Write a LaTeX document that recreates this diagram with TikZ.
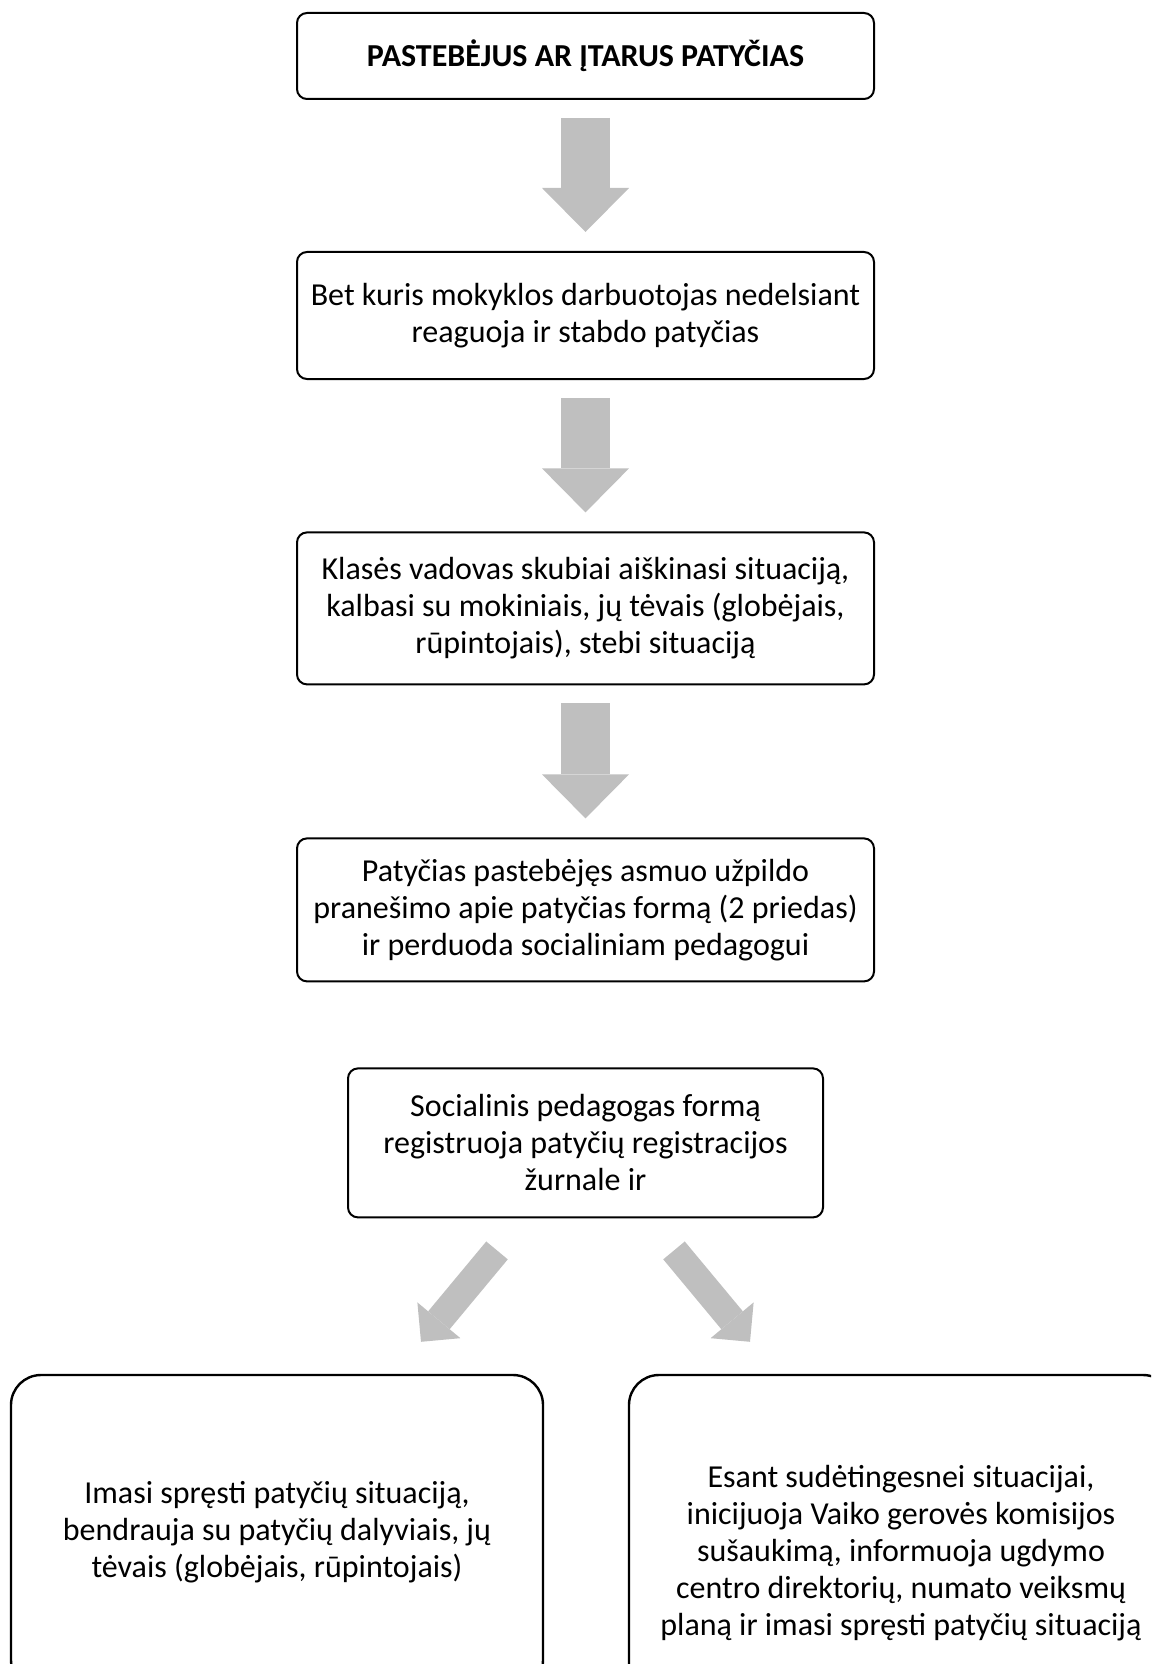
\documentclass[tikz,border=0pt]{standalone}
\usepackage{fontspec}
\setmainfont{Carlito}
\usetikzlibrary{arrows.meta, positioning}
\definecolor{arrgray}{HTML}{BFBFBF}

\begin{document}
\begin{tikzpicture}[x=0.5pt, y=-0.5pt, node distance = 75.7pt,
box/.style = {rectangle, rounded corners=5pt, draw, line width=1pt,
  align=center, minimum width=288.5pt, inner sep=2mm,
  font=\fontsize{16}{18.5}\selectfont},
wide/.style = {% bottom boxes
  box, rounded corners=15pt, line width=1.2pt},
DA/.style = {% Down Arrow
  draw=arrgray, line width=24.5pt,
  -{Triangle[length=22pt, width=43.5pt, line width=0pt]},
  shorten <=9pt, shorten >=9.5pt},
SA/.style = {% Slanted Arrow
  draw=arrgray, line width=14pt,
  -{Triangle[length=14pt, width=28pt, line width=0pt]}}]
\useasboundingbox (0,0) rectangle (1151,1664);
\clip (0,0) rectangle (1151,1664);
% main column
\node[box, minimum height=43pt, font=\bfseries\fontsize{16}{18.5}\selectfont]
  (b1) at (585.5,56) {PASTEBĖJUS AR ĮTARUS PATYČIAS};
\node[box, minimum height=63.5pt, below=75.5pt of b1] (b2)
  {Bet kuris mokyklos darbuotojas nedelsiant\\ reaguoja ir stabdo patyčias};
\node[box, minimum height=76pt, below=of b2] (b3)
  {Klasės vadovas skubiai aiškinasi situaciją,\\ kalbasi su mokiniais, jų tėvais (globėjais,\\ rūpintojais), stebi situaciją};
\node[box, minimum height=71.5pt, below=76pt of b3] (b4)
  {Patyčias pastebėjęs asmuo užpildo\\ pranešimo apie patyčias formą (2 priedas)\\ ir perduoda socialiniam pedagogui};
\node[box, minimum width=237.5pt, minimum height=74.5pt, below=42.5pt of b4] (b5)
  {Socialinis pedagogas formą\\ registruoja patyčių registracijos\\ žurnale ir};
% two outcomes
\node[wide, minimum width=266pt, minimum height=157.5pt] (b6) at (277,1532.5)
  {Imasi spręsti patyčių situaciją,\\ bendrauja su patyčių dalyviais, jų\\ tėvais (globėjais, rūpintojais)};
\node[wide, minimum width=272pt, minimum height=178pt] (b7) at (901,1553)
  {Esant sudėtingesnei situacijai,\\ inicijuoja Vaiko gerovės komisijos\\ sušaukimą, informuoja ugdymo\\ centro direktorių, numato veiksmų\\ planą ir imasi spręsti patyčių situaciją};
% arrows between nodes
\draw[DA] (b1) -- (b2);
\draw[DA] (b2) -- (b3);
\draw[DA] (b3) -- (b4);
\draw[SA] ([shift={(-88.5,32)}]b5.south) -- ([shift={(144,-32)}]b6.north);
\draw[SA] ([shift={(88.5,32)}]b5.south) -- ([shift={(-151,-32)}]b7.north);
\end{tikzpicture}
\end{document}
